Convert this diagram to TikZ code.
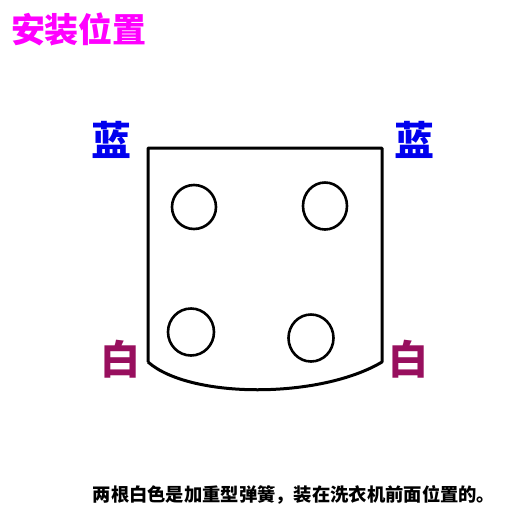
\documentclass[tikz,border=0pt]{standalone}
\usepackage{fontspec}
\newfontfamily\cjk{Noto Sans CJK SC}[BoldFont={Noto Sans CJK SC Black}]
\usetikzlibrary{shapes.geometric}
\definecolor{titlemag}{HTML}{FF00FF}
\definecolor{blueL}{HTML}{0000EE}
\definecolor{whiteL}{HTML}{980F5E}
\tikzset{
  lbl/.style={inner sep=0pt, font=\cjk\bfseries\fontsize{40}{40}\selectfont},
  hole/.style={draw=black, line width=2.6pt, ellipse, inner sep=0pt},
  plate/.style={draw=black, line width=3pt, line join=round}
}
\begin{document}
\begin{tikzpicture}[x=1pt,y=-1pt]
\useasboundingbox[fill=white] (0,0) rectangle (520,520);
\node[inner sep=0pt, text=titlemag, font=\cjk\bfseries\fontsize{34}{34}\selectfont] (title) at (79,29) {安装位置};
\draw[plate] (148,362) -- (148,148) -- (382,148) -- (382,362)
  .. controls (320,399) and (190,399) .. (148,362);
\node[hole, minimum width=44pt, minimum height=44pt] (h1) at (194,207) {};
\node[hole, minimum width=44pt, minimum height=47pt] (h2) at (325,206) {};
\node[hole, minimum width=46pt, minimum height=47pt] (h3) at (191,332) {};
\node[hole, minimum width=45pt, minimum height=47pt] (h4) at (311,338) {};
\node[lbl, text=blueL] (bl) at (111,140) {蓝};
\node[lbl, text=blueL] (br) at (414,140) {蓝};
\node[lbl, text=whiteL] (wl) at (120,359) {白};
\node[lbl, text=whiteL] (wr) at (408,359) {白};
\node[inner sep=0pt, font=\cjk\bfseries\fontsize{18.3}{18.3}\selectfont] (note) at (294,495) {两根白色是加重型弹簧，装在洗衣机前面位置的。};
\end{tikzpicture}
\end{document}
